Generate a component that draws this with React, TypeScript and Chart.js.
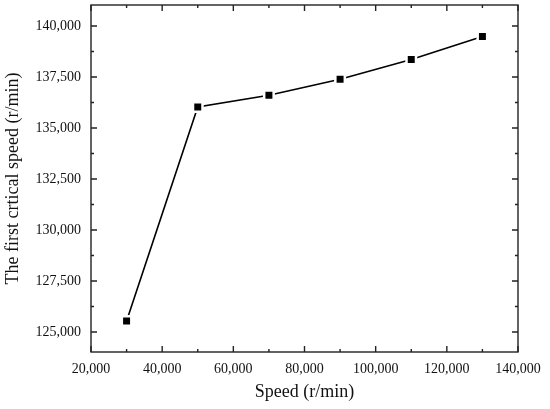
import React, { useEffect, useRef } from "react";
import { Chart, registerables } from "chart.js";

Chart.register(...registerables);

const speeds = [30000, 50000, 70000, 90000, 110000, 130000];
const criticalSpeeds = [125540, 136030, 136610, 137390, 138360, 139490];
const xTickValues = [20000, 40000, 60000, 80000, 100000, 120000, 140000];
const xMinorTickValues = [30000, 50000, 70000, 90000, 110000, 130000];
const yTickValues = [125000, 127500, 130000, 132500, 135000, 137500, 140000];
const yMinorTickValues = [126250, 128750, 131250, 133750, 136250, 138750];
const xTitle = "Speed (r/min)";
const yTitle = "The first crtical speed (r/min)";

const FONT = '"Liberation Serif", "Times New Roman", serif';

const framePlugin = {
  id: "frameTicks",
  afterDraw(chart: any) {
    const { ctx, chartArea } = chart;
    const xs = chart.scales.x;
    const ys = chart.scales.y;
    const { left, right, top, bottom } = chartArea;
    ctx.save();
    ctx.strokeStyle = "#222";
    ctx.lineWidth = 1.4;
    ctx.strokeRect(left, top, right - left, bottom - top);
    const major = 6;
    const minor = 3;
    ctx.beginPath();
    const xt = (vals: number[], len: number) => {
      vals.forEach((v) => {
        const px = xs.getPixelForValue(v);
        ctx.moveTo(px, bottom);
        ctx.lineTo(px, bottom - len);
        ctx.moveTo(px, top);
        ctx.lineTo(px, top + len);
      });
    };
    const yt = (vals: number[], len: number) => {
      vals.forEach((v) => {
        const py = ys.getPixelForValue(v);
        ctx.moveTo(left, py);
        ctx.lineTo(left + len, py);
        ctx.moveTo(right, py);
        ctx.lineTo(right - len, py);
      });
    };
    xt(xTickValues, major);
    xt(xMinorTickValues, minor);
    yt(yTickValues, major);
    yt(yMinorTickValues, minor);
    ctx.stroke();
    ctx.restore();
  },
};

export default function App() {
  const canvasRef = useRef<HTMLCanvasElement | null>(null);

  useEffect(() => {
    document.body.style.margin = "0";
    const canvas = canvasRef.current;
    if (!canvas) return;
    const chart = new Chart(canvas, {
      type: "line",
      data: {
        datasets: [
          {
            data: speeds.map((s, i) => ({ x: s, y: criticalSpeeds[i] })),
            borderColor: "#000",
            borderWidth: 1.6,
            pointStyle: "rect",
            pointRadius: 6.7,
            pointBackgroundColor: "#000",
            pointBorderColor: "#fff",
            pointBorderWidth: 2.5,
            fill: false,
            tension: 0,
          },
        ],
      },
      options: {
        responsive: false,
        animation: false,
        layout: { autoPadding: false, padding: { left: 0, right: 32, top: 5, bottom: 0 } },
        plugins: {
          legend: { display: false },
          tooltip: { enabled: false },
        },
        scales: {
          x: {
            type: "linear",
            min: 20000,
            max: 140000,
            grid: { display: false, drawTicks: false },
            border: { display: false },
            afterBuildTicks: (scale: any) => {
              scale.ticks = xTickValues.map((v) => ({ value: v }));
            },
            afterFit: (scale: any) => {
              scale.height = 57;
              scale.paddingLeft = 0;
              scale.paddingRight = 0;
            },
            ticks: {
              padding: 9,
              color: "#111",
              font: { family: FONT, size: 14 },
              maxRotation: 0,
              callback: (v: any) => Number(v).toLocaleString("en-US"),
            },
            title: {
              display: true,
              text: xTitle,
              color: "#111",
              font: { family: FONT, size: 18 },
              padding: { top: 0, bottom: 6 },
            },
          },
          y: {
            type: "linear",
            min: 124020,
            max: 141030,
            grid: { display: false, drawTicks: false },
            border: { display: false },
            afterBuildTicks: (scale: any) => {
              scale.ticks = yTickValues.map((v) => ({ value: v }));
            },
            afterFit: (scale: any) => {
              scale.width = 91;
              scale.paddingTop = 0;
              scale.paddingBottom = 0;
            },
            ticks: {
              padding: 10,
              color: "#111",
              font: { family: FONT, size: 14 },
              callback: (v: any) => Number(v).toLocaleString("en-US"),
            },
            title: {
              display: true,
              text: yTitle,
              color: "#111",
              font: { family: FONT, size: 18 },
              padding: { top: 2, bottom: 0 },
            },
          },
        },
      },
      plugins: [framePlugin],
    });
    return () => chart.destroy();
  }, []);

  return (
    <div style={{ width: 550, height: 409, background: "#fff" }}>
      <canvas ref={canvasRef} width={550} height={409} style={{ width: 550, height: 409, display: "block" }} />
    </div>
  );
}
